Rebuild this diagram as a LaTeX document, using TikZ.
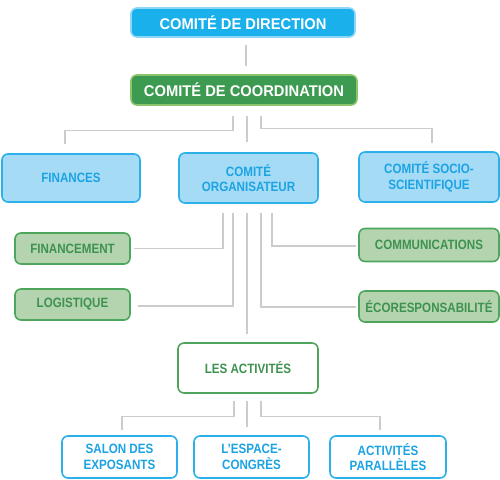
\documentclass[tikz,border=0pt]{standalone}
\usepackage{fontspec}
\setmainfont{Liberation Sans}[FakeStretch=0.86]
\newfontfamily\bigfont{Liberation Sans}[FakeStretch=0.95]
\definecolor{cyanfill}{HTML}{1AB0EC}
\definecolor{cyanedge}{HTML}{8ED6F5}
\definecolor{dgreenfill}{HTML}{3D9A51}
\definecolor{dgreenedge}{HTML}{8BC46A}
\definecolor{lbluefill}{HTML}{A6DBF6}
\definecolor{blueedge}{HTML}{2BB0EA}
\definecolor{bluetext}{HTML}{1CA3E3}
\definecolor{lgreenfill}{HTML}{B4D4B0}
\definecolor{greenedge}{HTML}{4EA65C}
\definecolor{greentext}{HTML}{3E9250}
\definecolor{connc}{HTML}{CCCCCC}
\begin{document}
\begin{tikzpicture}[x=1pt,y=-1pt,
  basebox/.style={rounded corners=6pt, line width=1.6pt, inner sep=0pt, align=center,
     font=\bfseries\fontsize{13.5}{15.5}\selectfont},
  topbox/.style={basebox, fill=cyanfill, draw=cyanedge, text=white,
     font=\bigfont\bfseries\fontsize{15.5}{17}\selectfont},
  coordbox/.style={basebox, fill=dgreenfill, draw=dgreenedge, text=white,
     font=\bigfont\bfseries\fontsize{15.5}{17}\selectfont},
  bluebox/.style={basebox, fill=lbluefill, draw=blueedge, text=bluetext},
  subgreen/.style={basebox, fill=lgreenfill, draw=greenedge, text=greentext},
  actbox/.style={basebox, fill=white, draw=greenedge, text=greentext},
  leafbox/.style={basebox, fill=white, draw=blueedge, text=bluetext},
  conn/.style={draw=connc, line width=1.3pt}]
\useasboundingbox (0,0) rectangle (500,479);

\node[topbox, minimum width=224pt, minimum height=29pt] (dir) at (243,22.5) {COMITÉ DE DIRECTION};
\node[coordbox, minimum width=226pt, minimum height=30pt] (coord) at (244,90) {COMITÉ DE COORDINATION};

\node[bluebox, minimum width=138pt, minimum height=48pt] (fin) at (71,178) {FINANCES};
\node[bluebox, minimum width=139pt, minimum height=50pt] (org) at (248.5,178) {COMITÉ\\ORGANISATEUR};
\node[bluebox, minimum width=140pt, minimum height=50pt] (soc) at (429,177) {COMITÉ SOCIO-\\SCIENTIFIQUE};

\node[subgreen, minimum width=115pt, minimum height=31pt] (finc) at (72.5,248.5) {FINANCEMENT};
\node[subgreen, minimum width=115pt, minimum height=31pt] (log) at (72.5,304.5) {LOGISTIQUE};
\node[subgreen, minimum width=140pt, minimum height=33pt] (comm) at (429,245) {COMMUNICATIONS};
\node[subgreen, minimum width=140pt, minimum height=31pt] (eco) at (429,306.5) {ÉCORESPONSABILITÉ};

\node[actbox, minimum width=140pt, minimum height=50pt] (act) at (248,368) {LES ACTIVITÉS};

\node[leafbox, minimum width=115pt, minimum height=42pt] (salon) at (119.5,457) {SALON DES\\EXPOSANTS};
\node[leafbox, minimum width=115pt, minimum height=42pt] (esp) at (251.5,457) {L’ESPACE-\\CONGRÈS};
\node[leafbox, minimum width=116pt, minimum height=42pt] (par) at (388,457) {ACTIVITÉS\\PARALLÈLES};

% connectors
\draw[conn] ([xshift=3pt,yshift=-7pt]dir.south) -- ([xshift=2pt,yshift=8pt]coord.north);

\draw[conn] ([xshift=-11pt,yshift=-10pt]coord.south) -- ++(0,15) -| ([xshift=-6pt,yshift=9pt]fin.north);
\draw[conn] ([xshift=3pt,yshift=-10pt]coord.south) -- ([xshift=-1.5pt,yshift=10pt]org.north);
\draw[conn] ([xshift=17pt,yshift=-10pt]coord.south) -- ++(0,13) -| ([xshift=3pt,yshift=8pt]soc.north);

\draw[conn] ([xshift=-25.5pt,yshift=-9pt]org.south) |- ([xshift=3pt]finc.east);
\draw[conn] ([xshift=-15.5pt,yshift=-9pt]org.south) |- ([xshift=7pt,yshift=-1.5pt]log.east);
\draw[conn] ([xshift=-1.5pt,yshift=-9pt]org.south) -- ([xshift=-1pt,yshift=8pt]act.north);
\draw[conn] ([xshift=12.5pt,yshift=-9pt]org.south) |- ([xshift=-2pt,yshift=-0.5pt]eco.west);
\draw[conn] ([xshift=23.5pt,yshift=-9pt]org.south) |- ([xshift=-2pt,yshift=-1pt]comm.west);

\draw[conn] ([xshift=-14pt,yshift=-7pt]act.south) -- ++(0,16) -| ([xshift=2.5pt,yshift=5pt]salon.north);
\draw[conn] ([xshift=-1pt,yshift=-7pt]act.south) -- ([xshift=-4.5pt,yshift=8pt]esp.north);
\draw[conn] ([xshift=13pt,yshift=-7pt]act.south) -- ++(0,16) -| ([xshift=-8pt,yshift=5pt]par.north);
\end{tikzpicture}
\end{document}
